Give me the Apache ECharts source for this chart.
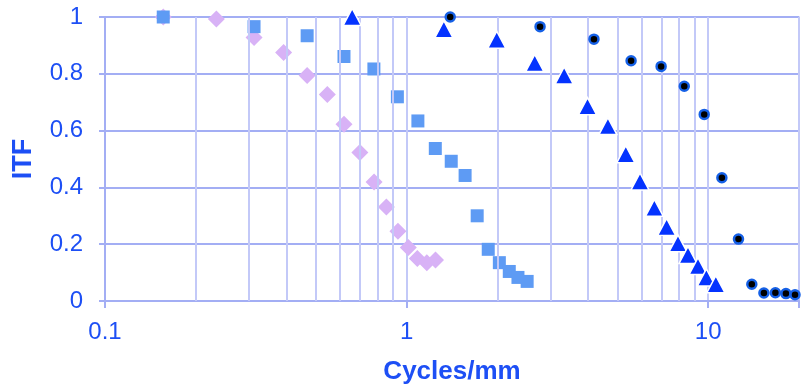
<!DOCTYPE html>
<html>
<head>
<meta charset="utf-8">
<script src="https://cdn.jsdelivr.net/npm/echarts@6/dist/echarts.min.js"></script>
<style>html,body{margin:0;padding:0;background:#fff}#c{width:804px;height:390px}</style>
</head>
<body>
<div id="c"></div>
<script>
// Data (Cycles/mm, ITF)
var squaresX = [0.156, 0.312, 0.468, 0.620, 0.779, 0.932, 1.09, 1.245, 1.406, 1.563, 1.714, 1.865, 2.03, 2.19, 2.34, 2.51];
var squaresY = [1.0, 0.966, 0.934, 0.861, 0.817, 0.719, 0.634, 0.537, 0.492, 0.442, 0.300, 0.182, 0.135, 0.104, 0.083, 0.069];

var diamondsX = [0.156, 0.234, 0.312, 0.391, 0.468, 0.546, 0.620, 0.700, 0.780, 0.857, 0.936, 1.013, 1.085, 1.167, 1.247];
var diamondsY = [1.0, 0.993, 0.928, 0.875, 0.794, 0.727, 0.622, 0.523, 0.419, 0.331, 0.246, 0.188, 0.150, 0.135, 0.144];

var trianglesX = [0.660, 1.329, 1.99, 2.66, 3.33, 3.98, 4.65, 5.33, 5.94, 6.63, 7.28, 7.94, 8.57, 9.25, 9.86, 10.6];
var trianglesY = [1.0, 0.957, 0.920, 0.838, 0.794, 0.686, 0.616, 0.517, 0.421, 0.328, 0.261, 0.203, 0.162, 0.123, 0.083, 0.059];

var dotsX = [1.395, 2.77, 4.18, 5.55, 6.98, 8.33, 9.70, 11.1, 12.6, 13.95, 15.3, 16.7, 18.1, 19.4];
var dotsY = [1.0, 0.966, 0.922, 0.846, 0.826, 0.756, 0.657, 0.434, 0.218, 0.059, 0.028, 0.029, 0.026, 0.022];

var minorGridX = [0.2, 0.3, 0.4, 0.5, 0.6, 0.7, 0.8, 0.9, 2, 3, 4, 5, 6, 7, 8, 9];
var xMin = 0.1, xMax = 20;
var yTicks = [0, 0.2, 0.4, 0.6, 0.8, 1];

function pairs(xs, ys) { return xs.map(function (x, i) { return [x, ys[i]]; }); }

var textColor = '#1d4ff5';
var gridH = '#a3aef4';
var gridV = '#c3c9f8';
var font = "'Liberation Sans', Arial, Helvetica, sans-serif";

var chart = echarts.init(document.getElementById('c'), null, { renderer: 'canvas' });
chart.setOption({
  animation: false,
  backgroundColor: '#ffffff',
  grid: { left: 105, right: 5, top: 17, bottom: 87, show: true, borderColor: gridV, borderWidth: 1.5 },
  xAxis: {
    type: 'log', logBase: 10, min: xMin, max: xMax,
    name: 'Cycles/mm', nameLocation: 'middle', nameGap: 58,
    nameTextStyle: { color: textColor, fontSize: 26, fontWeight: 'bold', fontFamily: font },
    axisLine: { show: true, lineStyle: { color: gridH, width: 2 } },
    axisTick: { show: true, length: 7, lineStyle: { color: gridH, width: 2 } },
    axisLabel: { color: textColor, fontSize: 24, fontFamily: font, margin: 19,
      formatter: function (v) { return (v === 0.1 || v === 1 || v === 10) ? String(v) : ''; } },
    splitLine: { show: true, lineStyle: { color: gridV, width: 2 } }
  },
  yAxis: {
    type: 'value', min: 0, max: 1, interval: 0.2,
    name: 'ITF', nameLocation: 'middle', nameGap: 68, nameRotate: 90,
    nameTextStyle: { color: textColor, fontSize: 27, fontWeight: 'bold', fontFamily: font },
    axisLine: { show: true, lineStyle: { color: gridH, width: 2 } },
    axisTick: { show: true, length: 6, lineStyle: { color: gridH, width: 2 } },
    axisLabel: { color: textColor, fontSize: 24, fontFamily: font, margin: 22,
      formatter: function (v) { return String(Math.round(v * 10) / 10); } },
    splitLine: { show: true, lineStyle: { color: gridH, width: 2 } }
  },
  series: [
    {
      type: 'scatter', data: [], z: 1, silent: true,
      markLine: {
        silent: true, symbol: 'none', animation: false,
        label: { show: false },
        lineStyle: { color: gridV, width: 2, type: 'solid' },
        data: minorGridX.map(function (v) { return { xAxis: v }; })
      }
    },
    {
      type: 'scatter', name: 'diamonds', z: 3, clip: false,
      symbol: 'diamond', symbolSize: [17, 17],
      itemStyle: { color: '#d8b2f6', opacity: 1 },
      data: pairs(diamondsX, diamondsY)
    },
    {
      type: 'scatter', name: 'squares', z: 4, clip: false,
      symbol: 'rect', symbolSize: 13,
      itemStyle: { color: '#5e9bf4', opacity: 1 },
      data: pairs(squaresX, squaresY)
    },
    {
      type: 'scatter', name: 'triangles', z: 5, clip: false,
      symbol: 'triangle', symbolSize: [18, 17],
      itemStyle: { color: '#0433ff', borderColor: '#ffffff', borderWidth: 1.5, opacity: 1 },
      data: pairs(trianglesX, trianglesY)
    },
    {
      type: 'scatter', name: 'dots', z: 6, clip: false,
      symbol: 'circle', symbolSize: 9,
      itemStyle: { color: '#000000', borderColor: '#1560e6', borderWidth: 2.5, opacity: 1 },
      data: pairs(dotsX, dotsY)
    }
  ]
});
</script>
</body>
</html>
